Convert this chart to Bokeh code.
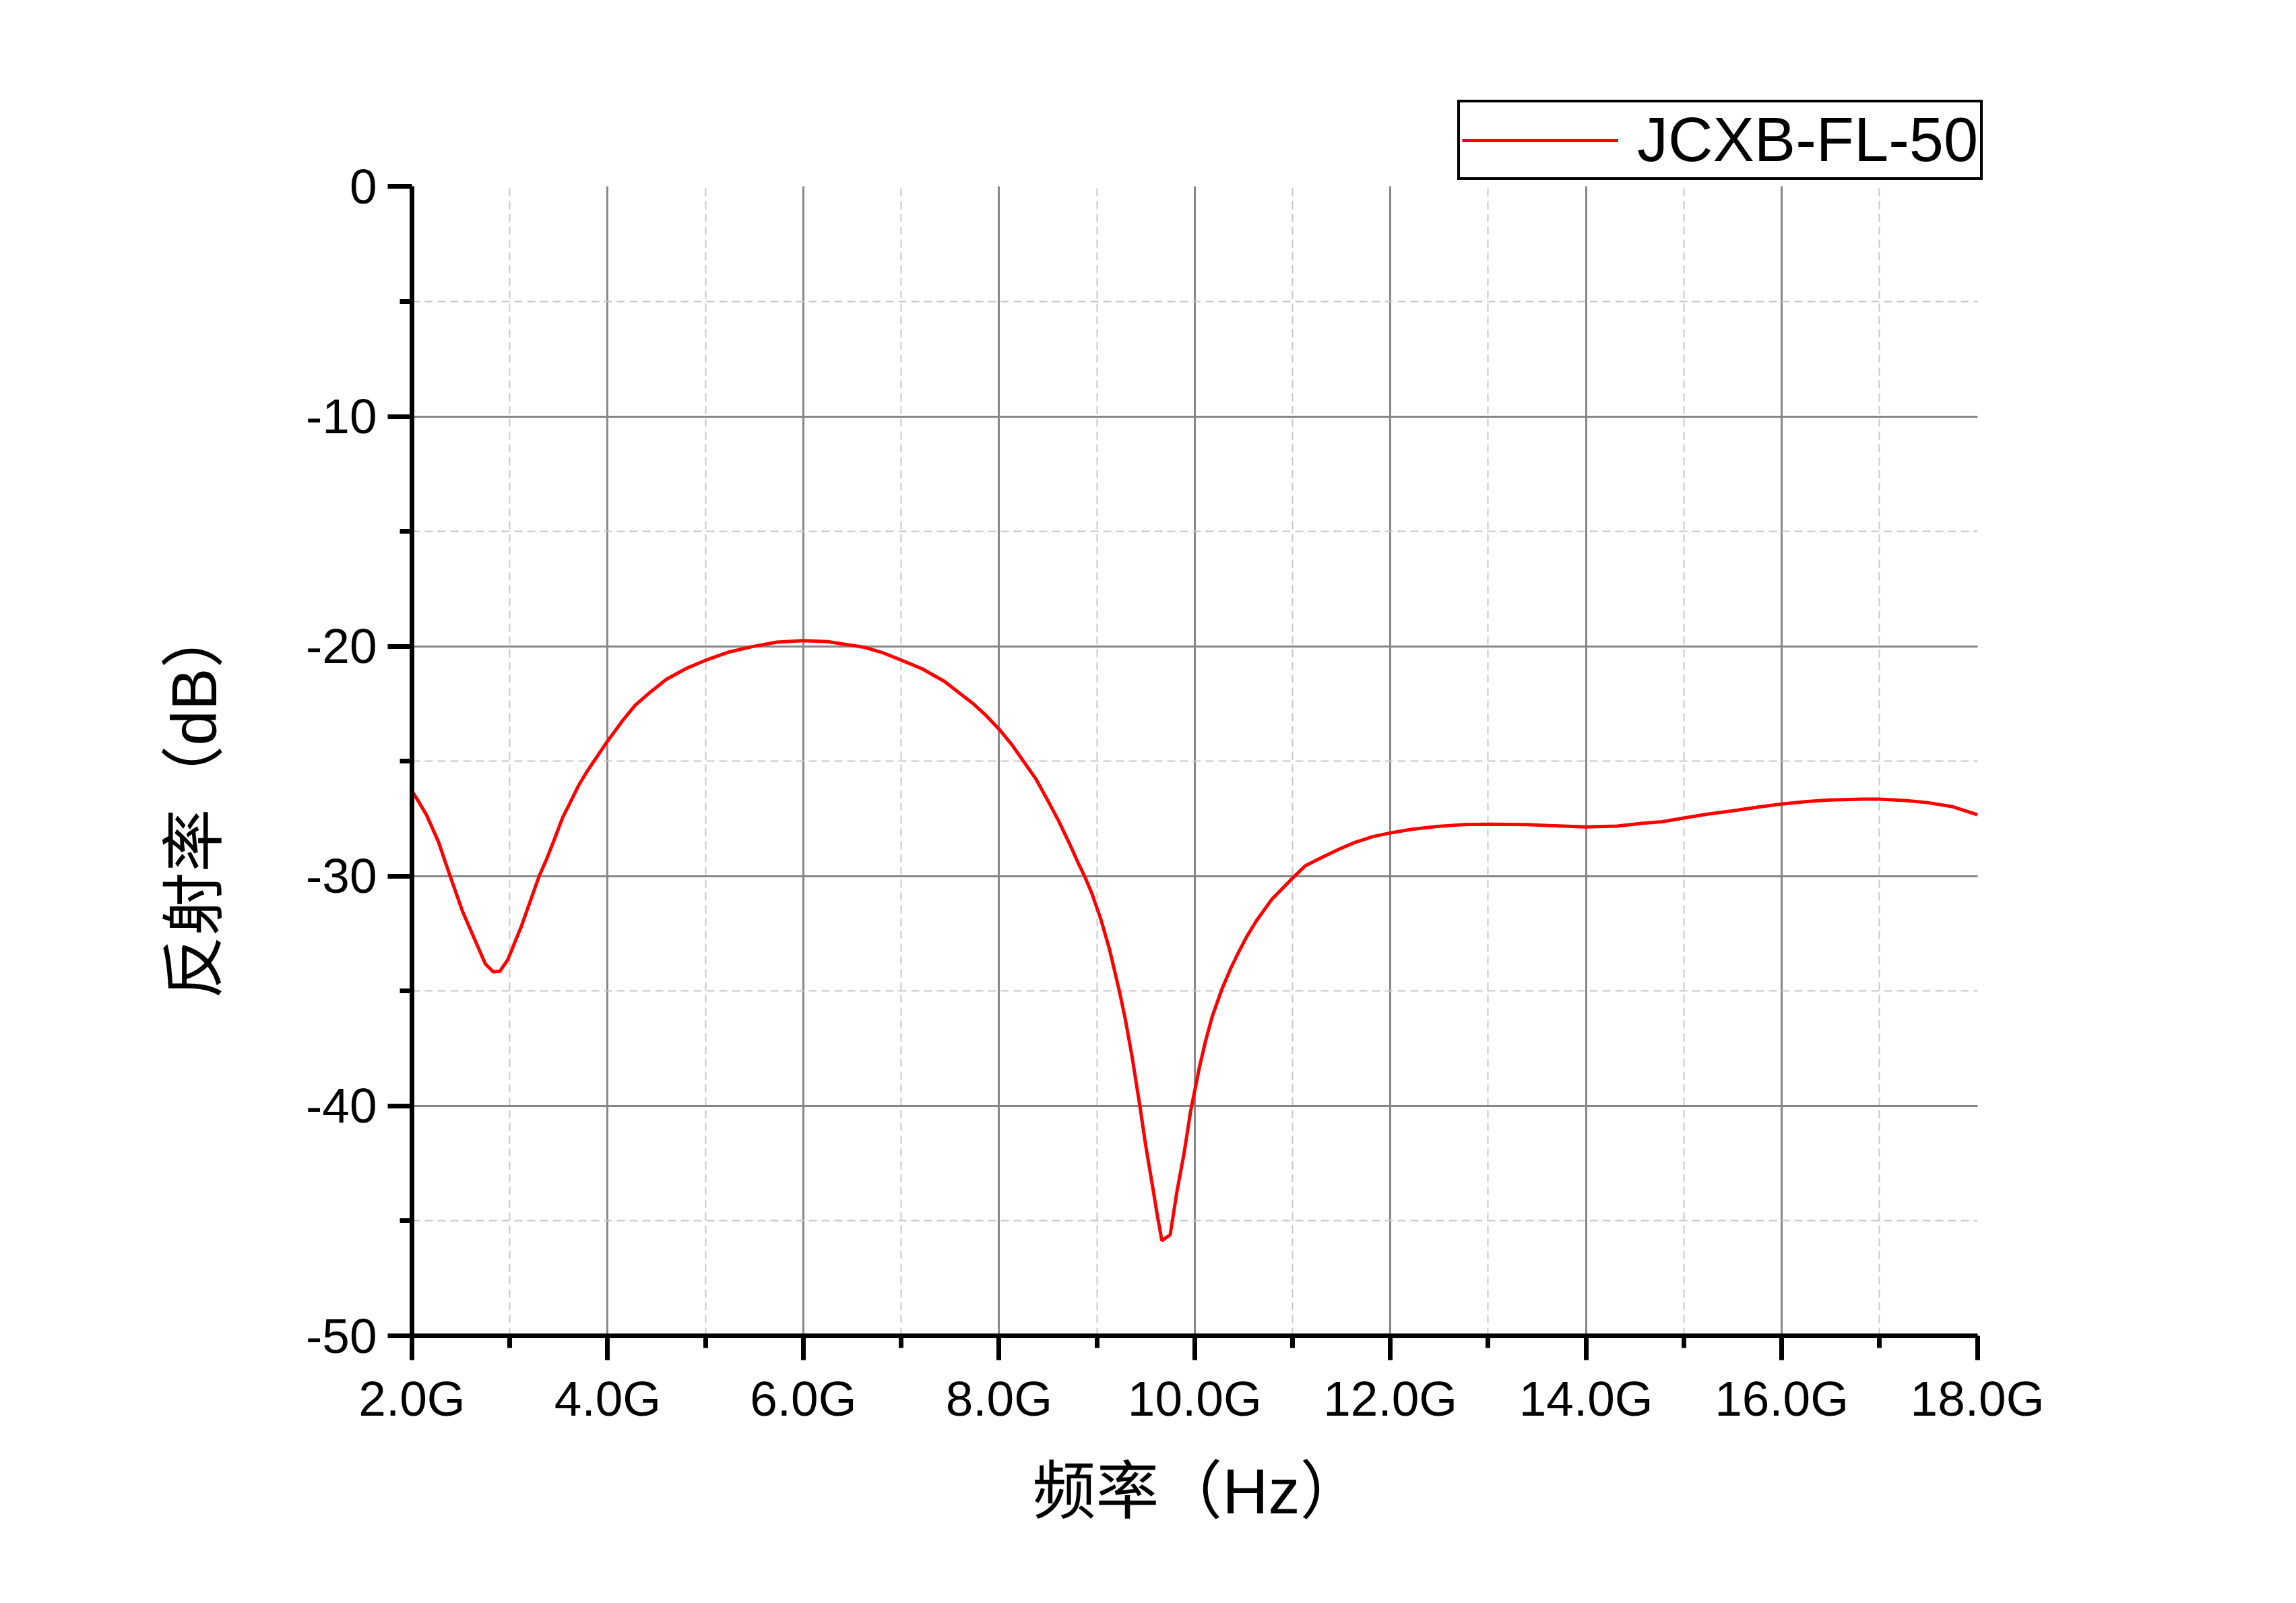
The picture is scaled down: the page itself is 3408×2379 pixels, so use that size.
from bokeh.plotting import figure
from bokeh.models import Range1d, FixedTicker, PrintfTickFormatter, Legend, LegendItem, Title
from bokeh.embed import file_html
from bokeh.resources import INLINE

# Data (frequency in GHz, reflectivity in dB)
freq_ghz = [2.0, 2.06, 2.15, 2.27, 2.39, 2.52, 2.66, 2.75, 2.83, 2.90, 2.98, 3.12, 3.30,
            3.38, 3.47, 3.54, 3.61, 3.70, 3.79, 3.86, 4.0, 4.15, 4.28, 4.44, 4.6, 4.81, 5.0,
            5.23, 5.47, 5.73, 6.0, 6.25, 6.62, 6.80, 7.0, 7.21, 7.44, 7.74, 7.87, 8.0, 8.13,
            8.26, 8.38, 8.49, 8.61, 8.72, 8.81, 8.88, 8.95, 9.04, 9.13, 9.23, 9.29, 9.36,
            9.44, 9.50, 9.57, 9.615, 9.665, 9.75, 9.82, 9.89, 9.96, 10.05, 10.11, 10.18,
            10.28, 10.37, 10.45, 10.53, 10.63, 10.79, 11.0, 11.13, 11.29, 11.48, 11.64,
            11.82, 12.0, 12.22, 12.48, 12.74, 13.0, 13.4, 13.63, 14.0, 14.32, 14.58, 14.78,
            15.0, 15.23, 15.49, 15.75, 16.0, 16.26, 16.49, 16.83, 17.0, 17.26, 17.49, 17.75, 18.0]
refl_db = [-26.3, -26.7, -27.35, -28.5, -30.0, -31.57, -32.94, -33.82, -34.16, -34.13,
           -33.63, -32.16, -30.0, -29.22, -28.24, -27.45, -26.86, -26.08, -25.44, -25.0,
           -24.12, -23.25, -22.57, -21.98, -21.44, -20.95, -20.61, -20.26, -20.02, -19.82,
           -19.75, -19.8, -20.04, -20.26, -20.6, -20.97, -21.52, -22.51, -23.02, -23.6,
           -24.27, -25.06, -25.79, -26.64, -27.6, -28.58, -29.43, -30.05, -30.76, -31.86,
           -33.19, -34.99, -36.2, -37.84, -40.0, -41.73, -43.5, -44.67, -45.86, -45.6,
           -43.7, -42.1, -40.2, -38.29, -37.2, -36.1, -34.9, -34.0, -33.3, -32.65, -31.95,
           -31.0, -30.09, -29.55, -29.21, -28.82, -28.53, -28.28, -28.12, -27.96, -27.84,
           -27.76, -27.74, -27.76, -27.8, -27.86, -27.82, -27.7, -27.63, -27.47, -27.31,
           -27.16, -27.0, -26.86, -26.75, -26.69, -26.65, -26.65, -26.71, -26.8, -26.98, -27.33]

x_major_ticks = [2, 4, 6, 8, 10, 12, 14, 16, 18]
x_minor_ticks = [3, 5, 7, 9, 11, 13, 15, 17]
y_major_ticks = [0, -10, -20, -30, -40, -50]
y_minor_ticks = [-5, -15, -25, -35, -45]
x_grid_major = [4, 6, 8, 10, 12, 14, 16]
y_grid_major = [-40, -30, -20, -10]
x_bounds = (2, 18)
y_bounds = (-50, 0)

series_name = "JCXB-FL-50"
x_title = "频率（Hz）"
y_title = "反射率（dB）"

LATIN = "Liberation Sans"
MIXED = "Liberation Sans, Noto Sans CJK SC"

# the frame reaches a little beyond the axes so the legend can sit there (axes/grid stop at bounds)
p = figure(width=3392, height=2363, output_backend="svg", toolbar_location=None,
           x_range=Range1d(2, 18.21), y_range=Range1d(-50, 4.0),
           min_border_left=611, min_border_right=427, min_border_top=140, min_border_bottom=381)
p.outline_line_color = None
p.background_fill_color = "white"
p.border_fill_color = "white"

r = p.line(freq_ghz, refl_db, line_color="#ff0000", line_width=5)

for ax, majors, minors, bnds in ((p.xaxis[0], x_major_ticks, x_minor_ticks, x_bounds),
                                 (p.yaxis[0], y_major_ticks, y_minor_ticks, y_bounds)):
    ax.ticker = FixedTicker(ticks=majors, minor_ticks=minors)
    ax.bounds = bnds
    ax.axis_line_width = 7
    ax.axis_line_color = "black"
    ax.major_tick_line_width = 7
    ax.minor_tick_line_width = 7
    ax.major_tick_line_color = "black"
    ax.minor_tick_line_color = "black"
    ax.major_tick_out = 36
    ax.major_tick_in = 0
    ax.minor_tick_out = 18
    ax.minor_tick_in = 0
    ax.major_label_text_font = LATIN
    ax.major_label_text_font_size = "73px"
    ax.major_label_text_color = "black"
    ax.major_label_standoff = 16

p.xaxis[0].formatter = PrintfTickFormatter(format="%.1fG")
p.yaxis[0].formatter = PrintfTickFormatter(format="%d")

p.xgrid[0].ticker = FixedTicker(ticks=x_grid_major, minor_ticks=x_minor_ticks)
p.ygrid[0].ticker = FixedTicker(ticks=y_grid_major, minor_ticks=y_minor_ticks)
p.xgrid[0].cross_bounds = y_bounds
p.ygrid[0].cross_bounds = x_bounds
for g in (p.xgrid[0], p.ygrid[0]):
    g.grid_line_color = "#878787"
    g.grid_line_width = 3
    g.minor_grid_line_color = "#c8c8c8"
    g.minor_grid_line_width = 2
    g.minor_grid_line_dash = "12 7"

# Axis titles (offset along the frame like the reference)
yt = Title(text=y_title, align="left", offset=500, standoff=220,
           text_font=MIXED, text_font_size="94px", text_font_style="normal", text_color="black")
p.add_layout(yt, "left")
xt = Title(text=x_title, align="left", offset=921, standoff=81,
           text_font=MIXED, text_font_size="94px", text_font_style="normal", text_color="black")
p.add_layout(xt, "below")

legend = Legend(items=[LegendItem(label=series_name, renderers=[r])],
                location=(1552, 1715), orientation="vertical",
                label_text_font=LATIN, label_text_font_size="92px", label_text_color="black",
                glyph_width=232, glyph_height=60, label_standoff=28, padding=3, margin=0,
                border_line_color="black", border_line_width=4, border_line_alpha=1.0,
                background_fill_color="white", background_fill_alpha=1.0)
p.add_layout(legend, "center")

open("out.html", "w").write(file_html(p, INLINE))
